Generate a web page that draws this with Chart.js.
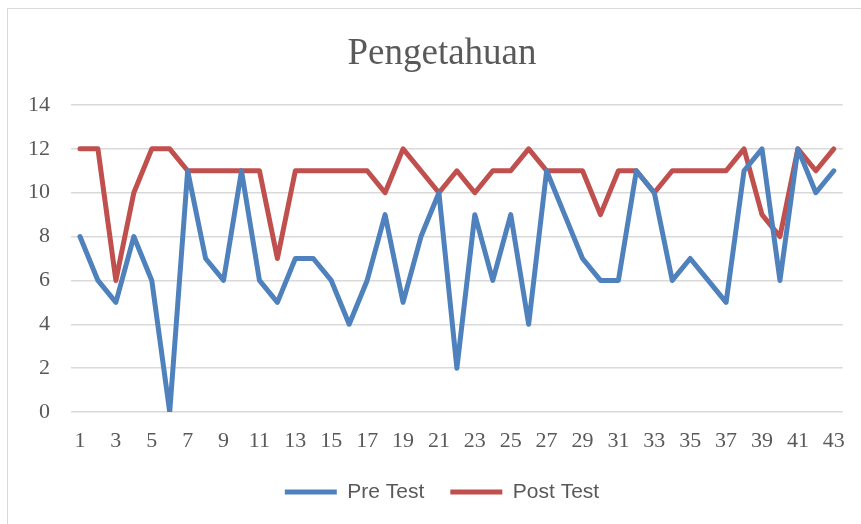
<!DOCTYPE html>
<html>
<head>
<meta charset="utf-8">
<script src="https://cdn.jsdelivr.net/npm/chart.js@4.4.1/dist/chart.umd.min.js"></script>
<style>
  html, body { margin: 0; padding: 0; background: #fff; }
  #wrap { position: relative; width: 861px; height: 524px; overflow: hidden; }
  #frame { position: absolute; left: 7px; top: 8px; width: 900px; height: 600px;
           border-left: 1px solid #d9d9d9; border-top: 1px solid #d9d9d9; }
  canvas { position: absolute; left: 0; top: 0; }
</style>
</head>
<body>
<div id="wrap">
  <div id="frame"></div>
  <canvas id="chart" width="861" height="524"></canvas>
</div>
<script>
// respondent number 1..43
const labels = [];
for (let i = 1; i <= 43; i++) labels.push(String(i));

const preTest = [8, 6, 5, 8, 6, 0, 11, 7, 6, 11, 6, 5, 7, 7, 6, 4, 6, 9, 5, 8, 10,
  2, 9, 6, 9, 4, 11, 9, 7, 6, 6, 11, 10, 6, 7, 6, 5, 11, 12, 6, 12, 10, 11];
const postTest = [12, 12, 6, 10, 12, 12, 11, 11, 11, 11, 11, 7, 11, 11, 11, 11, 11, 10, 12, 11, 10,
  11, 10, 11, 11, 12, 11, 11, 11, 9, 11, 11, 10, 11, 11, 11, 11, 12, 9, 8, 12, 11, 12];

const blue = '#4f81bd';
const red = '#c0504d';
const textColor = '#595959';
const serif = "'Liberation Serif', 'Times New Roman', serif";

const ctx = document.getElementById('chart').getContext('2d');
new Chart(ctx, {
  type: 'line',
  data: {
    labels: labels,
    datasets: [
      { label: 'Pre Test', data: preTest, borderColor: blue, backgroundColor: blue },
      { label: 'Post Test', data: postTest, borderColor: red, backgroundColor: red },
    ],
  },
  options: {
    responsive: false,
    animation: false,
    layout: { padding: { left: 28, right: 5, top: 0, bottom: 11.5 } },
    elements: {
      line: { borderWidth: 5, tension: 0, borderCapStyle: 'round', borderJoinStyle: 'round' },
      point: { radius: 0, hoverRadius: 0 },
    },
    plugins: {
      tooltip: { enabled: false },
      title: {
        display: true,
        text: 'Pengetahuan',
        color: textColor,
        font: { family: serif, size: 37, weight: 'normal' },
        padding: { top: 32, bottom: 28.6 },
      },
      legend: {
        position: 'bottom',
        labels: {
          color: textColor,
          font: { family: "'Liberation Sans', Arial, sans-serif", size: 21 },
          boxWidth: 52,
          boxHeight: 5,
          padding: 26,
          generateLabels: (chart) => chart.data.datasets.map((ds, i) => ({
            text: ds.label,
            fillStyle: ds.borderColor,
            strokeStyle: ds.borderColor,
            lineWidth: 0,
            fontColor: textColor,
            datasetIndex: i,
          })),
        },
      },
    },
    scales: {
      x: {
        offset: true,
        grid: { display: false, drawTicks: false },
        border: { display: false },
        ticks: {
          color: textColor,
          font: { family: serif, size: 22 },
          autoSkip: false,
          maxRotation: 0,
          padding: 16,
          callback: (v, i) => (i % 2 === 0 ? labels[i] : ''),
        },
        afterFit: (scale) => { scale.height = 43.5; },
      },
      y: {
        min: 0,
        max: 14,
        grid: { color: '#d9d9d9', lineWidth: 1.5, drawTicks: false },
        border: { display: false },
        ticks: {
          stepSize: 2,
          color: textColor,
          font: { family: serif, size: 22 },
          padding: 21,
        },
        afterFit: (scale) => { scale.width = 43; },
      },
      yRight: {
        position: 'right',
        display: true,
        grid: { display: false },
        border: { display: false },
        ticks: { display: false },
        afterFit: (scale) => { scale.width = 13; },
      },
    },
  },
});
</script>
</body>
</html>
